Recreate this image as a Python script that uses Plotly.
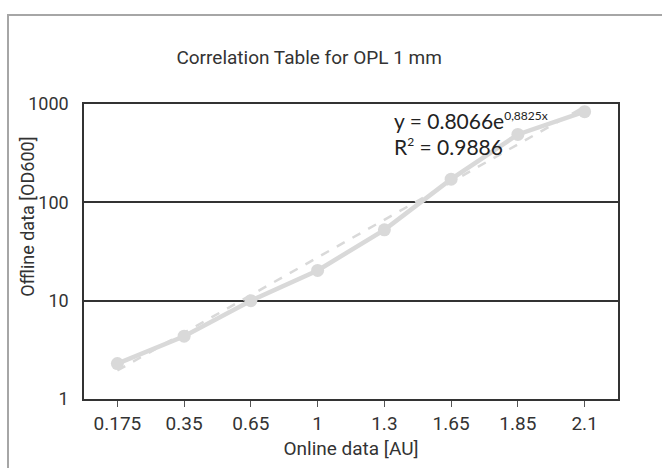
import math
import plotly.graph_objects as go

categories = ["0.175", "0.35", "0.65", "1", "1.3", "1.65", "1.85", "2.1"]
offline_values = [2.29, 4.35, 10.0, 20.3, 52.5, 172, 490, 836]
trend_a = 0.8066
trend_b = 0.8825
trend_values = [trend_a * math.exp(trend_b * (i + 1)) for i in range(len(categories))]
y_tickvals = [1, 10, 100, 1000]
y_ticktext = ["1", "10", "100", "1000"]

GRAY = "#d9d9d9"
FONT = "Roboto"
TXT = "#333333"

fig = go.Figure()
fig.add_trace(go.Scatter(
    x=categories, y=trend_values, mode="lines",
    line=dict(color=GRAY, width=2.5, dash="dash"), hoverinfo="skip", showlegend=False))
fig.add_trace(go.Scatter(
    x=categories, y=offline_values, mode="lines+markers",
    line=dict(color=GRAY, width=4.5), marker=dict(color=GRAY, size=13),
    showlegend=False))

fig.update_layout(
    width=662, height=468,
    margin=dict(l=84, r=44, t=104, b=66),
    paper_bgcolor="white", plot_bgcolor="white",
    font=dict(family=FONT, size=19, color=TXT),
    title=dict(text="Correlation Table for OPL 1 mm", x=0.467, xanchor="center",
               y=1 - 57 / 468, yanchor="middle",
               font=dict(family=FONT, size=19, color=TXT)),
    xaxis=dict(type="category", range=[-0.5, 7.5], showgrid=False,
               showline=True, linecolor=TXT, linewidth=1.5, mirror=True,
               ticks="outside", ticklen=6, tickcolor="#555555", tickwidth=1,
               tickfont=dict(family=FONT, size=19, color=TXT),
               title=dict(text="Online data [AU]", standoff=8,
                          font=dict(family=FONT, size=19, color=TXT))),
    yaxis=dict(type="log", range=[0, 3], tickvals=y_tickvals, ticktext=y_ticktext,
               showgrid=True, gridcolor=TXT, gridwidth=1.5,
               showline=True, linecolor=TXT, linewidth=1.5, mirror=True,
               ticks="", ticklabelstandoff=10,
               tickfont=dict(family=FONT, size=18, color=TXT)),
)

fig.add_shape(type="rect", xref="paper", yref="paper",
              x0=(8 - 84) / 534, x1=1.3, y0=-0.4, y1=(402 - 14) / 298,
              line=dict(color="#a6a6a6", width=2), fillcolor="rgba(0,0,0,0)", layer="below")

# y-axis title placed as in the reference (shifted above plot centre)
fig.add_annotation(xref="paper", yref="paper", x=(28 - 84) / 534, y=(402 - 218) / 298,
                   xanchor="center", yanchor="middle", showarrow=False, textangle=-90,
                   text="Offline data [OD600]",
                   font=dict(family=FONT, size=18, color=TXT))

fig.add_annotation(xref="paper", yref="paper", x=(392 - 84) / 534, y=(402 - 121) / 298,
                   xanchor="left", yanchor="middle", showarrow=False, align="left",
                   text="y = 0.8066e<sup><span style='font-size:12px'>0,8825x</span></sup>",
                   font=dict(family="Lato", size=21, color="#222222"))
fig.add_annotation(xref="paper", yref="paper", x=(392 - 84) / 534, y=(402 - 147) / 298,
                   xanchor="left", yanchor="middle", showarrow=False, align="left",
                   text="R<sup><span style='font-size:12px'>2</span></sup> = 0.9886",
                   font=dict(family="Lato", size=21, color="#222222"))

fig.write_html("out.html")
